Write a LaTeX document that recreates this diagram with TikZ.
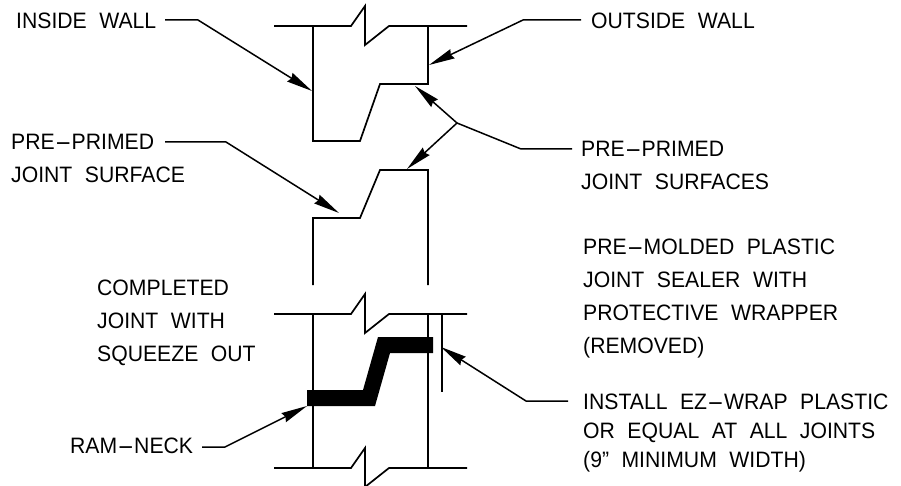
\documentclass[tikz,border=0pt]{standalone}
\usepackage{fontspec}
\usepackage{amsmath}
\usepackage{xcolor}
\setmainfont{Liberation Sans}[FakeStretch=0.95]
\usetikzlibrary{arrows.meta}
\newcommand{\hy}{\scalebox{2.4}[1]{-}}
\newcommand{\lblfont}[1]{\fontsize{22.3}{#1}\selectfont\setlength{\spaceskip}{12.5pt}}
\tikzset{
    wall/.style={line width=1.7pt, line join=miter},
    leader/.style={line width=1.5pt, -{Stealth[length=26pt, width=10pt, inset=2pt]}},
    lbl/.style={anchor=base west, inner sep=0pt, align=left, font=\lblfont{33}},
    lbltight/.style={lbl, font=\lblfont{29}}
}
\begin{document}
\begin{tikzpicture}[x=1pt, y=-1pt]
        \useasboundingbox (0,0) rectangle (901,486);

        % Labels
        \node[lbl] (InsideWall) at (16,29) {INSIDE WALL};
        \node[lbl] (OutsideWall) at (591,29) {OUTSIDE WALL};
        \node[lbl] (PrimedLeft) at (11,183) {PRE\hy PRIMED\\JOINT SURFACE};
        \node[lbl] (PrimedRight) at (581,190) {PRE\hy PRIMED\\JOINT SURFACES};
        \node[lbl] (Sealer) at (583,353) {PRE\hy MOLDED PLASTIC\\JOINT SEALER WITH\\PROTECTIVE WRAPPER\\(REMOVED)};
        \node[lbl] (Completed) at (97,361) {COMPLETED\\JOINT WITH\\SQUEEZE OUT};
        \node[lbltight] (Install) at (583,467) {INSTALL EZ\hy WRAP PLASTIC\\OR EQUAL AT ALL JOINTS\\(9” MINIMUM WIDTH)};
        \node[lbl] (RamNeck) at (70,453) {RAM\hy NECK};

        % Leader points
        \coordinate (InsideStart) at (165,20);
        \coordinate (InsideBend) at (198,20);
        \coordinate (InsideTip) at (312,91);
        \coordinate (OutsideStart) at (581,20);
        \coordinate (OutsideBend) at (523,20);
        \coordinate (OutsideTip) at (429,65);
        \coordinate (PrimedStart) at (165,142);
        \coordinate (PrimedBend) at (226,142);
        \coordinate (PrimedTip) at (339,213);
        \coordinate (SurfacesStart) at (572,149);
        \coordinate (SurfacesBend) at (521,149);
        \coordinate (SurfacesFork) at (457,123);
        \coordinate (SurfacesTipA) at (415,86);
        \coordinate (SurfacesTipB) at (407,169);
        \coordinate (InstallStart) at (568,401);
        \coordinate (InstallBend) at (526,401);
        \coordinate (InstallTip) at (441,347);
        \coordinate (RamStart) at (202,447);
        \coordinate (RamBend) at (225,447);
        \coordinate (RamTip) at (307,406);

        % Break lines
        \foreach \y in {26,314,468} {
            \draw[wall] (274,\y) -- (351,\y) -- (365,\y-20) -- (365,\y+19) -- (389,\y) -- (467,\y);
        }

        % Joint sections
        \draw[wall] (313,26) -- (313,141) -- (360,141) -- (380,84) -- (428,84) -- (428,26);
        \draw[wall] (313,285) -- (313,218) -- (360,218) -- (380,170) -- (428,170) -- (428,285);
        \draw[wall] (313,314) -- (313,468);
        \draw[wall] (428,314) -- (428,468);
        \draw[wall] (442,314) -- (442,392);

        % Sealer
        \fill (307,390) -- (363,390) -- (378,337) -- (433,337) -- (433,353) -- (390,353) -- (375,406) -- (307,406) -- cycle;

        % Arrows
        \draw[leader] (InsideStart) -- (InsideBend) -- (InsideTip);
        \draw[leader] (OutsideStart) -- (OutsideBend) -- (OutsideTip);
        \draw[leader] (PrimedStart) -- (PrimedBend) -- (PrimedTip);
        \draw[leader] (SurfacesStart) -- (SurfacesBend) -- (SurfacesFork) -- (SurfacesTipA);
        \draw[leader] (SurfacesFork) -- (SurfacesTipB);
        \draw[leader] (InstallStart) -- (InstallBend) -- (InstallTip);
        \draw[leader] (RamStart) -- (RamBend) -- (RamTip);
    \end{tikzpicture}
\end{document}
